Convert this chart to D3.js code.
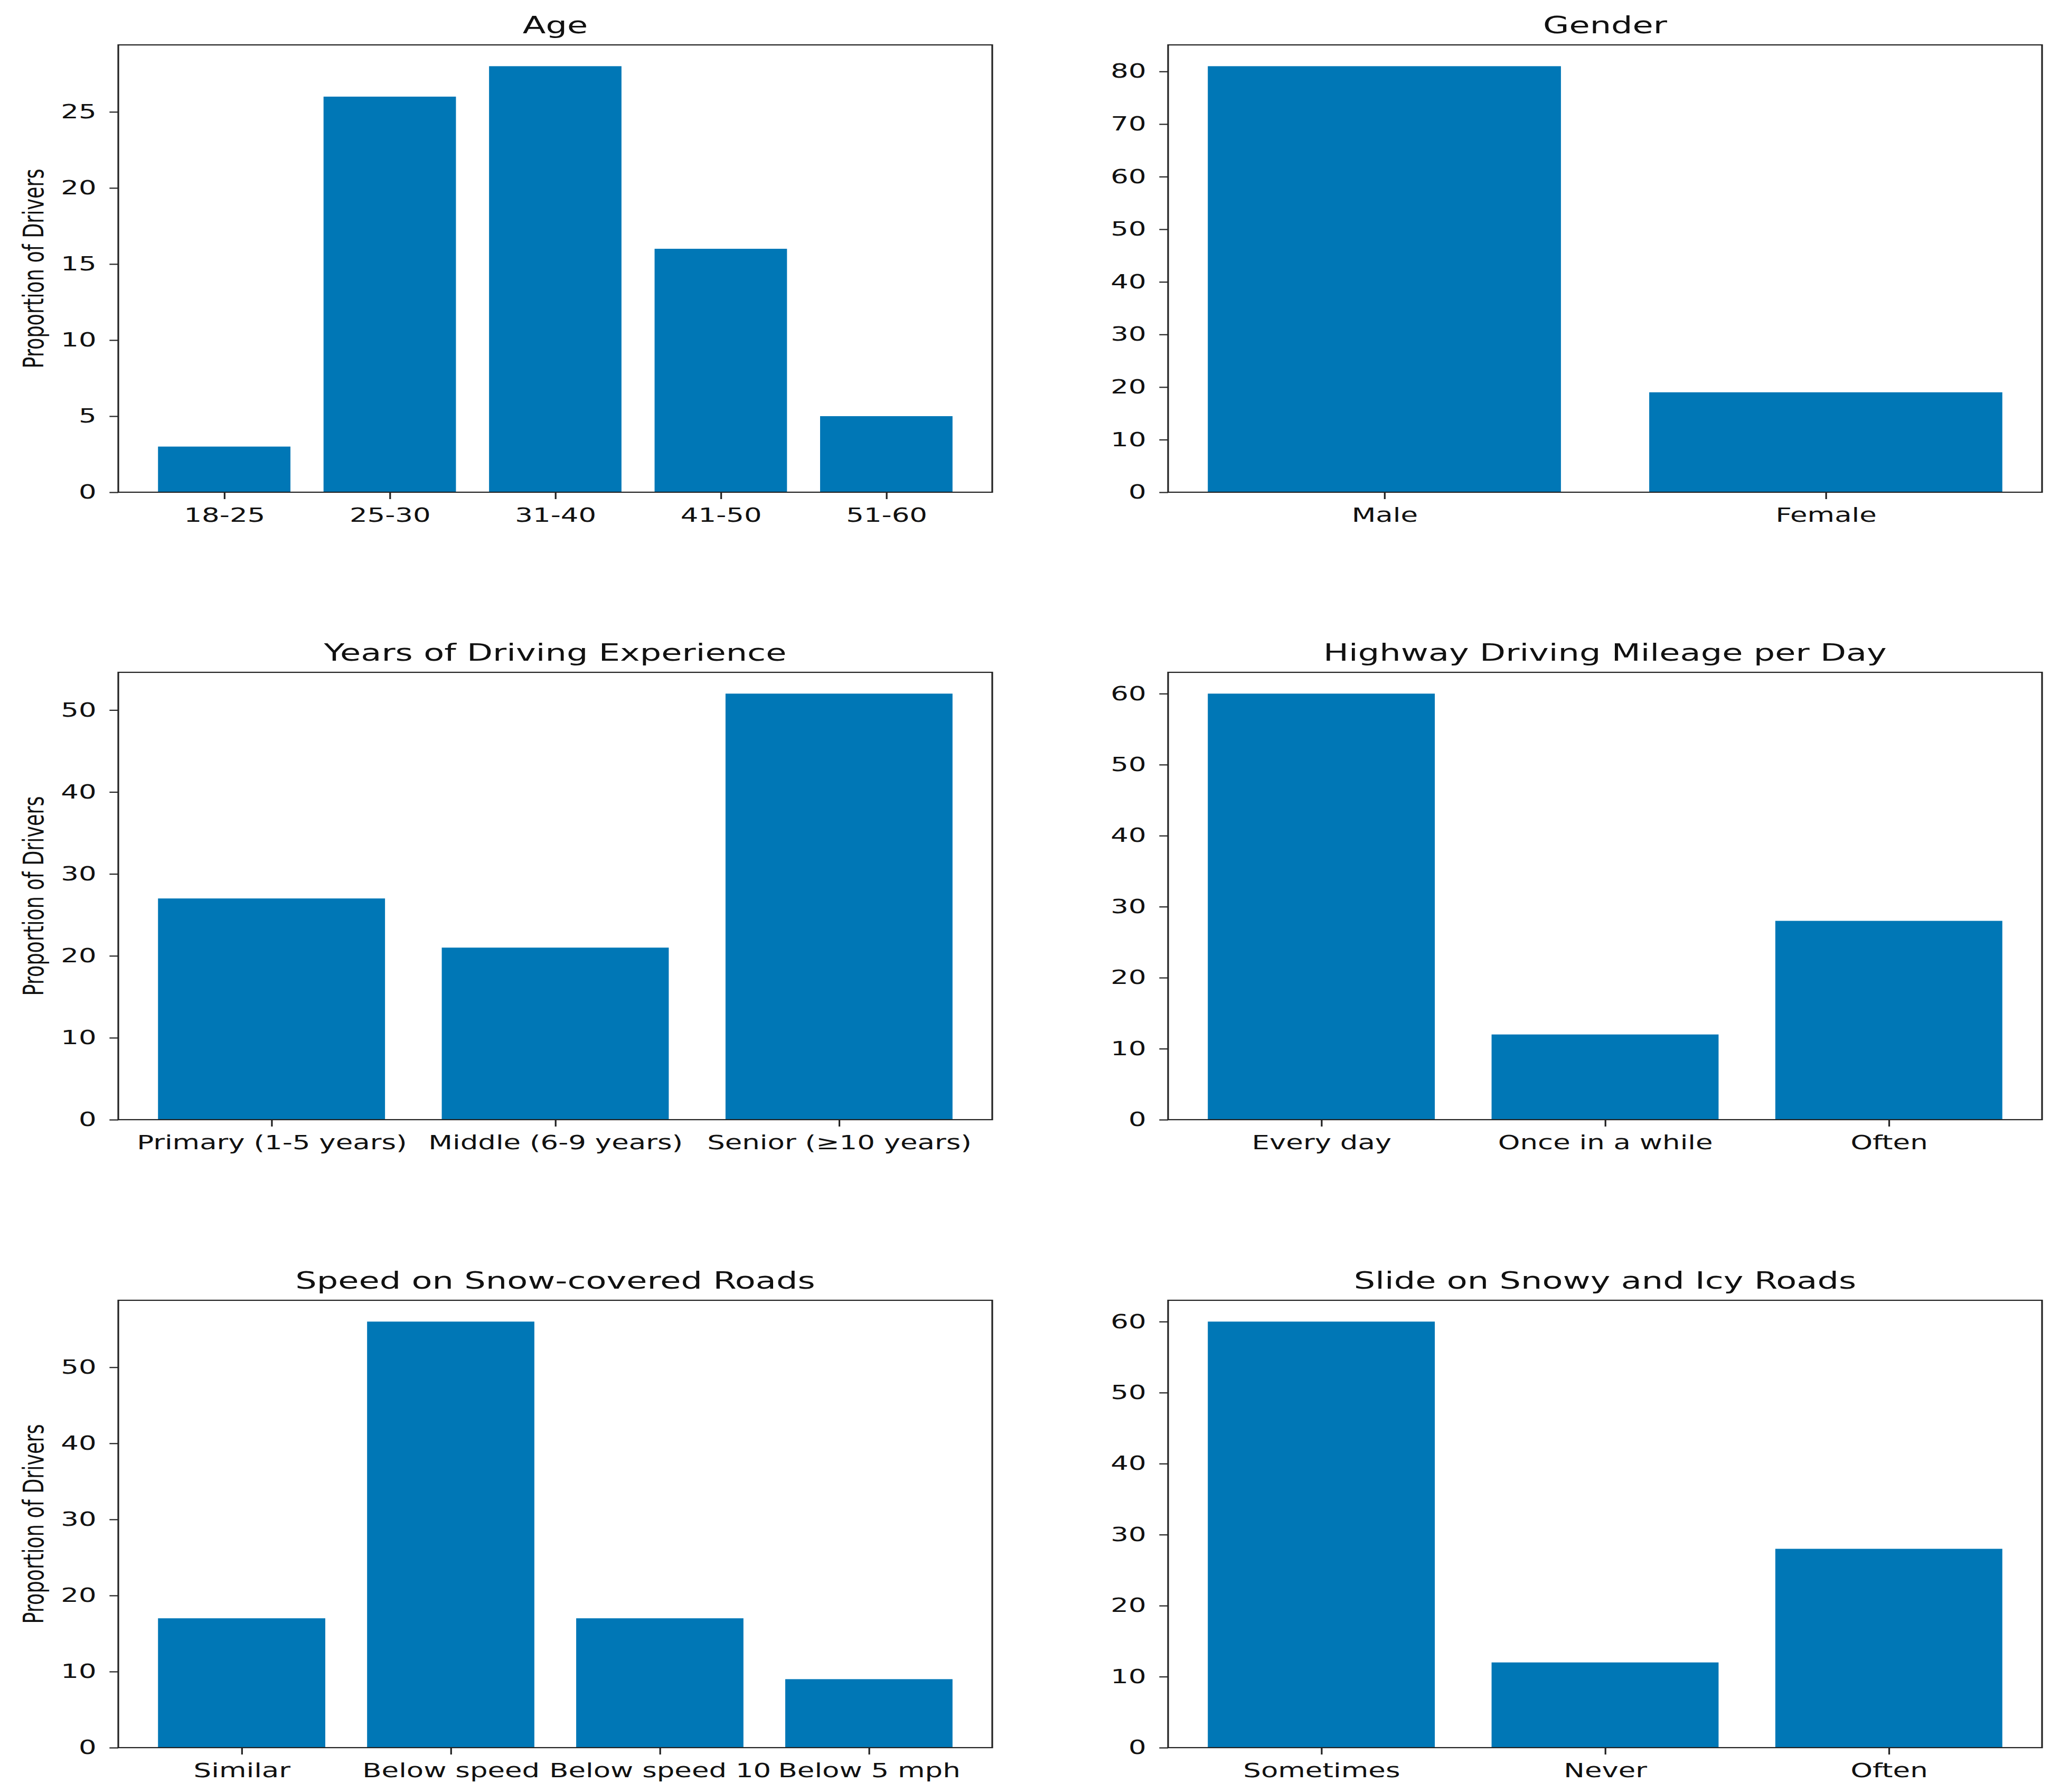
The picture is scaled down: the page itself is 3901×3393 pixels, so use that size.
<!DOCTYPE html>
<html>
<head>
<meta charset="utf-8">
<script src="https://cdn.jsdelivr.net/npm/d3@7"></script>
<style>
  html, body { margin: 0; padding: 0; background: #fff; }
  svg { display: block; }
</style>
</head>
<body>
<script>
// values (percent of drivers)
const ageCats = ["18-25", "25-30", "31-40", "41-50", "51-60"];
const ageVals = [3, 26, 28, 16, 5];

const genderCats = ["Male", "Female"];
const genderVals = [81, 19];

const expCats = ["Primary (1-5 years)", "Middle (6-9 years)", "Senior (\u226510 years)"];
const expVals = [27, 21, 52];

const mileageCats = ["Every day", "Once in a while", "Often"];
const mileageVals = [60, 12, 28];

const speedCats = ["Similar", "Below speed", "Below speed 10", "Below 5 mph"];
const speedVals = [17, 56, 17, 9];

const slideCats = ["Sometimes", "Never", "Often"];
const slideVals = [60, 12, 28];

const titles = ["Age", "Gender", "Years of Driving Experience",
  "Highway Driving Mileage per Day", "Speed on Snow-covered Roads", "Slide on Snowy and Icy Roads"];

const ageTicks = [0, 5, 10, 15, 20, 25];
const genderTicks = [0, 10, 20, 30, 40, 50, 60, 70, 80];
const expTicks = [0, 10, 20, 30, 40, 50];
const mileageTicks = [0, 10, 20, 30, 40, 50, 60];
const speedTicks = [0, 10, 20, 30, 40, 50];
const slideTicks = [0, 10, 20, 30, 40, 50, 60];

const yLabel = "Proportion of Drivers";

const panels = [
  { cats: ageCats, vals: ageVals, ticks: ageTicks },
  { cats: genderCats, vals: genderVals, ticks: genderTicks },
  { cats: expCats, vals: expVals, ticks: expTicks },
  { cats: mileageCats, vals: mileageVals, ticks: mileageTicks },
  { cats: speedCats, vals: speedVals, ticks: speedTicks },
  { cats: slideCats, vals: slideVals, ticks: slideTicks }
];

// the source picture is stretched sideways, so draw in a squeezed space
const K = 1.45;
const W = 3901, H = 3393;
const colLeft = [224, 2212];
const rowTop = [85, 1273, 2462];
const axW = 1655 / K, axH = 847;

const barColor = "#0077b6";
const font = "DejaVu Sans, Verdana, sans-serif";

const svg = d3.select("body").append("svg")
  .attr("width", W)
  .attr("height", H);

svg.append("rect").attr("width", W).attr("height", H).attr("fill", "#fff");

const root = svg.append("g").attr("transform", `scale(${K},1)`);

panels.forEach((p, k) => {
  const col = k % 2, row = Math.floor(k / 2);
  const n = p.cats.length;
  const pad = 0.05 * (n - 0.2);

  const g = root.append("g")
    .attr("transform", `translate(${colLeft[col] / K},${rowTop[row]})`);

  const x = d3.scaleLinear()
    .domain([-0.4 - pad, n - 1 + 0.4 + pad])
    .range([0, axW]);

  const y = d3.scaleLinear()
    .domain([0, d3.max(p.vals) * 1.05])
    .range([axH, 0]);

  g.selectAll(".bar")
    .data(p.vals)
    .enter()
    .append("rect")
    .attr("class", "bar")
    .attr("x", (d, i) => x(i - 0.4))
    .attr("width", (d, i) => x(i + 0.4) - x(i - 0.4))
    .attr("y", d => y(d))
    .attr("height", d => axH - y(d))
    .attr("fill", barColor);

  const yAxis = g.append("g")
    .call(d3.axisLeft(y).tickValues(p.ticks).tickSize(11.5).tickSizeOuter(0).tickPadding(17));

  const xAxis = g.append("g")
    .attr("transform", `translate(0,${axH})`)
    .call(d3.axisBottom(x).tickValues(d3.range(n)).tickFormat(i => p.cats[i])
      .tickSize(13).tickSizeOuter(0).tickPadding(17));

  [yAxis, xAxis].forEach(a => {
    a.select(".domain").remove();
    a.attr("font-family", font).attr("font-size", 36.5);
    a.selectAll("line").attr("stroke", "#222").attr("stroke-width", 2.2);
    a.selectAll("text").attr("fill", "#111");
  });

  // frame
  g.append("rect")
    .attr("width", axW)
    .attr("height", axH)
    .attr("fill", "none")
    .attr("stroke", "#222")
    .attr("stroke-width", 2.2);

  g.append("text")
    .attr("x", axW / 2)
    .attr("y", -22)
    .attr("text-anchor", "middle")
    .attr("font-family", font)
    .attr("font-size", 44)
    .attr("fill", "#111")
    .text(titles[k]);

  if (col === 0) {
    g.append("text")
      .attr("transform", "rotate(-90)")
      .attr("x", -axH / 2)
      .attr("y", -98)
      .attr("text-anchor", "middle")
      .attr("font-family", font)
      .attr("font-size", 36.5)
      .attr("fill", "#111")
      .text(yLabel);
  }
});
</script>
</body>
</html>
